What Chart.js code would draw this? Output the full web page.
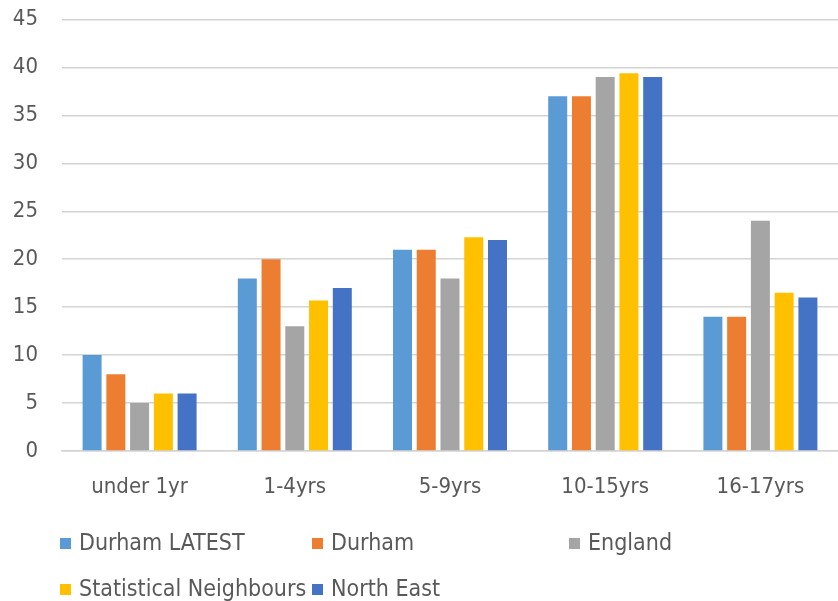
<!DOCTYPE html>
<html>
<head>
<meta charset="utf-8">
<script src="https://cdn.jsdelivr.net/npm/chart.js@4.4.1/dist/chart.umd.min.js"></script>
<style>
  html, body { margin: 0; padding: 0; background: #fff; }
  #wrap { position: relative; width: 838px; height: 601px; }
  #legend { position: absolute; left: 0; top: 0; width: 838px; height: 601px; pointer-events: none;
    font-family: "Liberation Sans Narrow", "DejaVu Sans Condensed", "Open Sans", sans-serif; font-size: 23px; color: #595959; }
  .item { position: absolute; white-space: nowrap; line-height: 26px; }
  .box { display: inline-block; width: 11px; height: 11px; margin-right: 8px; vertical-align: 1px; }
</style>
</head>
<body>
<div id="wrap">
  <canvas id="chart" width="838" height="601"></canvas>
  <div id="legend"></div>
</div>
<script>
const categories = ['under 1yr', '1-4yrs', '5-9yrs', '10-15yrs', '16-17yrs'];
const seriesNames = ['Durham LATEST', 'Durham', 'England', 'Statistical Neighbours', 'North East'];
const durhamLatest = [10, 18, 21, 37, 14];
const durham = [8, 20, 21, 37, 14];
const england = [5, 13, 18, 39, 24];
const statNeighbours = [6, 15.7, 22.3, 39.4, 16.5];
const northEast = [6, 17, 22, 39, 16];
const colors = ['#5B9BD5', '#ED7D31', '#A5A5A5', '#FFC000', '#4472C4'];
const yTicks = [0, 5, 10, 15, 20, 25, 30, 35, 40, 45];

const values = [durhamLatest, durham, england, statNeighbours, northEast];
const font = "'Liberation Sans Narrow', 'DejaVu Sans Condensed', 'Open Sans', sans-serif";

const chart = new Chart(document.getElementById('chart'), {
  type: 'bar',
  data: {
    labels: categories,
    datasets: seriesNames.map((name, i) => ({
      label: name,
      data: values[i],
      backgroundColor: colors[i],
      categoryPercentage: 0.765,
      barPercentage: 0.8,
    })),
  },
  options: {
    responsive: false,
    animation: false,
    layout: { padding: { top: 19.5, right: 0, bottom: 0, left: 0 } },
    plugins: { legend: { display: false }, tooltip: { enabled: false } },
    scales: {
      x: {
        grid: { display: false },
        border: { color: '#d4d4d4', width: 1.5 },
        ticks: { color: '#595959', font: { family: font, size: 22 }, padding: 15 },
        afterFit: (scale) => { scale.height = 150; },
      },
      y: {
        min: 0,
        max: 45,
        afterBuildTicks: (scale) => { scale.ticks = yTicks.map(v => ({ value: v })); },
        grid: { color: '#d4d4d4', lineWidth: 1.5, drawTicks: false },
        border: { display: false },
        ticks: { color: '#595959', font: { family: font, size: 22 }, padding: 24 },
        afterFit: (scale) => {
          scale.width = 62;
          scale.paddingTop = 0;
          scale.paddingBottom = 0;
        },
      },
    },
  },
});

// legend laid out like the original, rows with fixed columns
const legendPos = [[60, 542], [312, 542], [569, 542], [60, 588], [312, 588]];
const legend = document.getElementById('legend');
chart.data.datasets.forEach((ds, i) => {
  const el = document.createElement('div');
  el.className = 'item';
  el.style.left = legendPos[i][0] + 'px';
  el.style.top = (legendPos[i][1] - 13) + 'px';
  el.innerHTML = '<span class="box" style="background:' + ds.backgroundColor + '"></span>' + ds.label;
  legend.appendChild(el);
});
</script>
</body>
</html>
